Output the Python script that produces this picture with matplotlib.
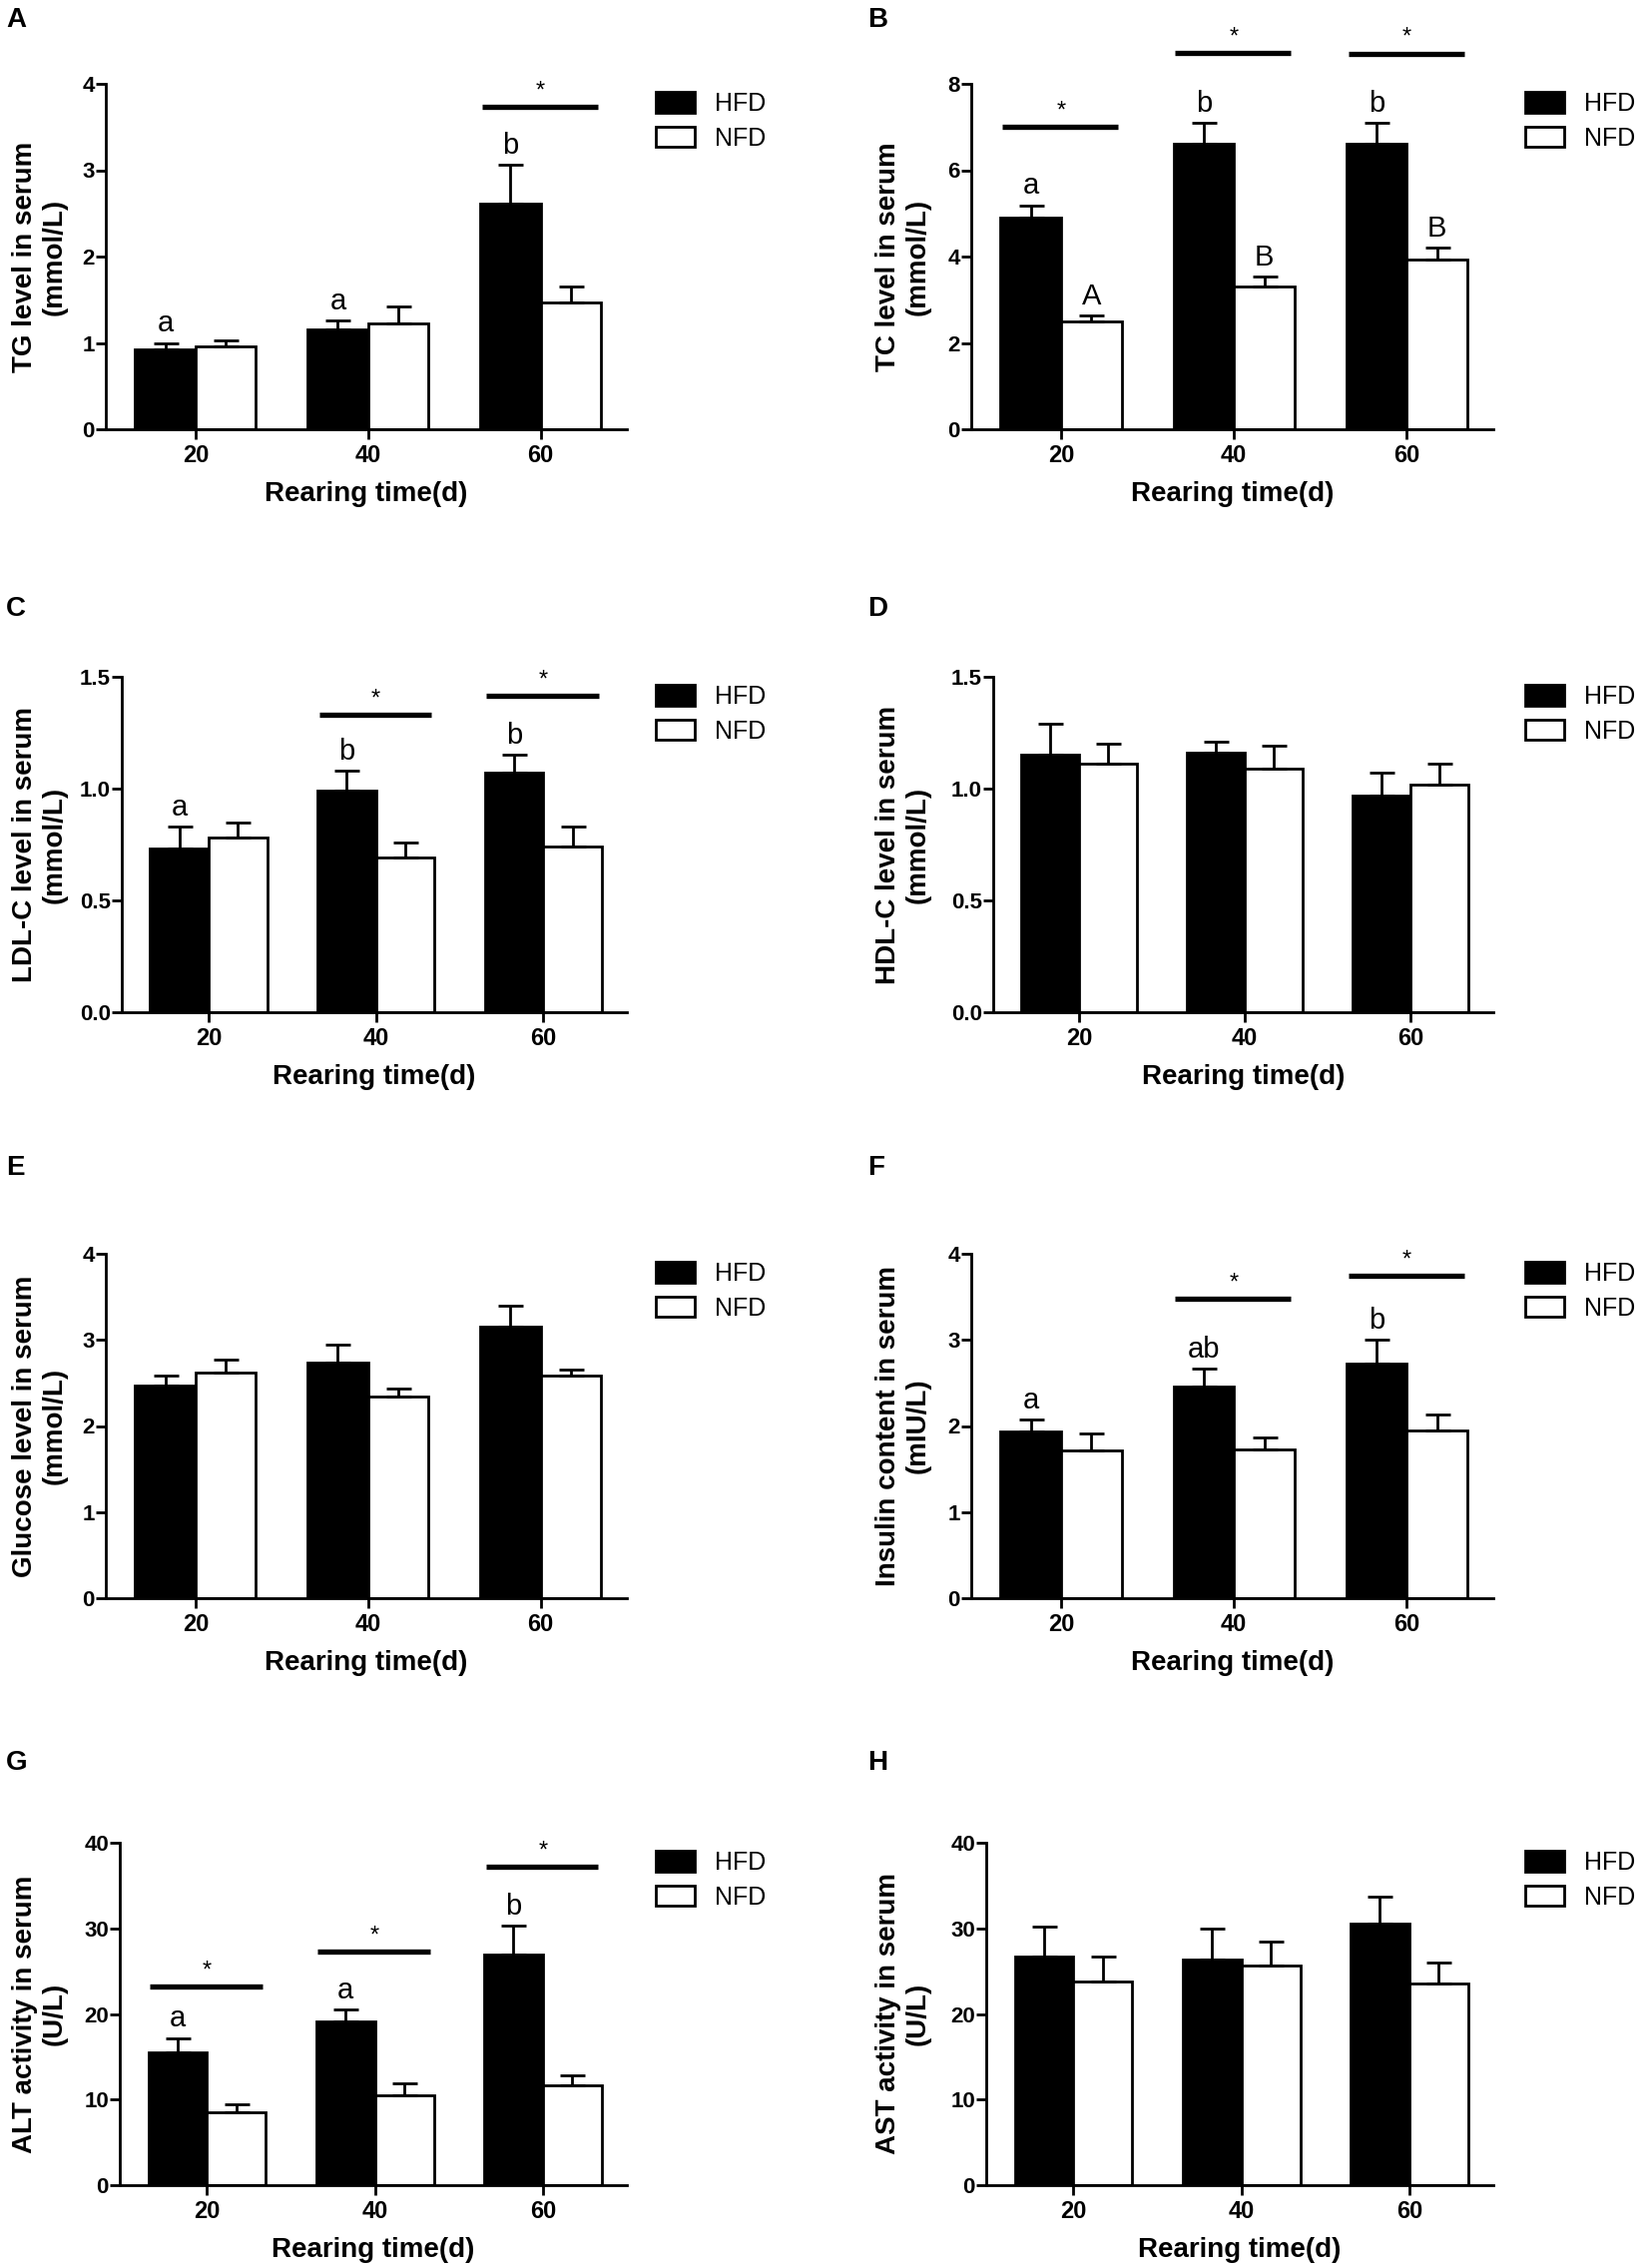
import numpy as np
import matplotlib
matplotlib.use('Agg')
import matplotlib.pyplot as plt
from matplotlib import font_manager

names = {f.name for f in font_manager.fontManager.ttflist}
NARROW = 'Liberation Sans Narrow' if 'Liberation Sans Narrow' in names else 'Liberation Sans'
WIDE = 'Liberation Sans'

days = ['20', '40', '60']
groups = ['HFD', 'NFD']
xlabel = 'Rearing time(d)'

# A  TG
tg_hfd = [0.93, 1.16, 2.61]
tg_hfd_sem = [0.07, 0.10, 0.45]
tg_nfd = [0.96, 1.23, 1.47]
tg_nfd_sem = [0.07, 0.19, 0.18]
tg_letters_hfd = ['a', 'a', 'b']
tg_letters_nfd = ['', '', '']
tg_sig = [2]
tg_sig_y = [3.73]

# B  TC
tc_hfd = [4.91, 6.62, 6.62]
tc_hfd_sem = [0.28, 0.48, 0.48]
tc_nfd = [2.49, 3.30, 3.94]
tc_nfd_sem = [0.14, 0.24, 0.26]
tc_letters_hfd = ['a', 'b', 'b']
tc_letters_nfd = ['A', 'B', 'B']
tc_sig = [0, 1, 2]
tc_sig_y = [7.01, 8.72, 8.70]

# C  LDL-C
ldl_hfd = [0.73, 0.99, 1.07]
ldl_hfd_sem = [0.10, 0.09, 0.08]
ldl_nfd = [0.78, 0.69, 0.74]
ldl_nfd_sem = [0.07, 0.07, 0.09]
ldl_letters_hfd = ['a', 'b', 'b']
ldl_letters_nfd = ['', '', '']
ldl_sig = [1, 2]
ldl_sig_y = [1.33, 1.415]

# D  HDL-C
hdl_hfd = [1.15, 1.16, 0.97]
hdl_hfd_sem = [0.14, 0.05, 0.10]
hdl_nfd = [1.11, 1.09, 1.02]
hdl_nfd_sem = [0.09, 0.10, 0.09]

# E  glucose
glu_hfd = [2.47, 2.74, 3.15]
glu_hfd_sem = [0.11, 0.21, 0.25]
glu_nfd = [2.62, 2.34, 2.58]
glu_nfd_sem = [0.15, 0.09, 0.07]

# F  insulin
ins_hfd = [1.94, 2.46, 2.73]
ins_hfd_sem = [0.13, 0.21, 0.27]
ins_nfd = [1.72, 1.73, 1.95]
ins_nfd_sem = [0.19, 0.14, 0.18]
ins_letters_hfd = ['a', 'ab', 'b']
ins_letters_nfd = ['', '', '']
ins_sig = [1, 2]
ins_sig_y = [3.48, 3.74]

# G  ALT
alt_hfd = [15.5, 19.1, 26.9]
alt_hfd_sem = [1.7, 1.4, 3.4]
alt_nfd = [8.5, 10.5, 11.7]
alt_nfd_sem = [1.0, 1.4, 1.1]
alt_letters_hfd = ['a', 'a', 'b']
alt_letters_nfd = ['', '', '']
alt_sig = [0, 1, 2]
alt_sig_y = [23.2, 27.3, 37.2]

# H  AST
ast_hfd = [26.7, 26.4, 30.6]
ast_hfd_sem = [3.5, 3.6, 3.1]
ast_nfd = [23.8, 25.6, 23.5]
ast_nfd_sem = [2.9, 2.9, 2.5]

panels = [
    dict(tag='A', ylabel='TG level in serum\n(mmol/L)', ymax=4, step=1, fmt='%d',
         hfd=tg_hfd, hs=tg_hfd_sem, nfd=tg_nfd, ns=tg_nfd_sem,
         lh=tg_letters_hfd, ln=tg_letters_nfd, sig=tg_sig, sig_y=tg_sig_y),
    dict(tag='B', ylabel='TC level in serum\n(mmol/L)', ymax=8, step=2, fmt='%d',
         hfd=tc_hfd, hs=tc_hfd_sem, nfd=tc_nfd, ns=tc_nfd_sem,
         lh=tc_letters_hfd, ln=tc_letters_nfd, sig=tc_sig, sig_y=tc_sig_y),
    dict(tag='C', ylabel='LDL-C level in serum\n(mmol/L)', ymax=1.5, step=0.5, fmt='%.1f',
         hfd=ldl_hfd, hs=ldl_hfd_sem, nfd=ldl_nfd, ns=ldl_nfd_sem,
         lh=ldl_letters_hfd, ln=ldl_letters_nfd, sig=ldl_sig, sig_y=ldl_sig_y),
    dict(tag='D', ylabel='HDL-C level in serum\n(mmol/L)', ymax=1.5, step=0.5, fmt='%.1f',
         hfd=hdl_hfd, hs=hdl_hfd_sem, nfd=hdl_nfd, ns=hdl_nfd_sem),
    dict(tag='E', ylabel='Glucose level in serum\n(mmol/L)', ymax=4, step=1, fmt='%d',
         hfd=glu_hfd, hs=glu_hfd_sem, nfd=glu_nfd, ns=glu_nfd_sem),
    dict(tag='F', ylabel='Insulin content in serum\n(mIU/L)', ymax=4, step=1, fmt='%d',
         hfd=ins_hfd, hs=ins_hfd_sem, nfd=ins_nfd, ns=ins_nfd_sem,
         lh=ins_letters_hfd, ln=ins_letters_nfd, sig=ins_sig, sig_y=ins_sig_y),
    dict(tag='G', ylabel='ALT activity in serum\n(U/L)', ymax=40, step=10, fmt='%d',
         hfd=alt_hfd, hs=alt_hfd_sem, nfd=alt_nfd, ns=alt_nfd_sem,
         lh=alt_letters_hfd, ln=alt_letters_nfd, sig=alt_sig, sig_y=alt_sig_y),
    dict(tag='H', ylabel='AST activity in serum\n(U/L)', ymax=40, step=10, fmt='%d',
         hfd=ast_hfd, hs=ast_hfd_sem, nfd=ast_nfd, ns=ast_nfd_sem),
]

# layout in pixels of the 1655x2269 canvas
W, H = 1655, 2269
row_top = [84, 678, 1256, 1846]
row_bot = [430, 1014, 1601, 2189]
tag_y = [20, 610, 1170, 1766]
ax_left = [106, 973, 122, 995, 106, 973, 120, 988]
ax_right = [628, 1496]
ylab_x = [40, 905]
tag_x = [6, 869]
leg_x = [657, 1528]

fig = plt.figure(figsize=(W / 100, H / 100), dpi=100)
x = np.arange(len(days))
w = 0.35

for i, p in enumerate(panels):
    r, c = divmod(i, 2)
    l, rr = ax_left[i], ax_right[c]
    t, b = row_top[r], row_bot[r]
    ax = fig.add_axes([l / W, 1 - b / H, (rr - l) / W, (b - t) / H])

    bh = ax.bar(x - w / 2, p['hfd'], w, color='black', edgecolor='black', linewidth=2, label='HFD')
    bn = ax.bar(x + w / 2, p['nfd'], w, color='white', edgecolor='black', linewidth=2, label='NFD')
    zeros = np.zeros(len(days))
    ax.errorbar(x - w / 2, p['hfd'], yerr=[zeros, p['hs']], fmt='none', ecolor='black',
                elinewidth=2, capsize=9, capthick=2, zorder=3)
    ax.errorbar(x + w / 2, p['nfd'], yerr=[zeros, p['ns']], fmt='none', ecolor='black',
                elinewidth=2, capsize=9, capthick=2, zorder=3)

    for j in range(len(days)):
        for lets, means, sems, dx in ((p.get('lh'), p['hfd'], p['hs'], -w / 2),
                                       (p.get('ln'), p['nfd'], p['ns'], w / 2)):
            if lets and lets[j]:
                ax.annotate(lets[j], (x[j] + dx, means[j] + sems[j]), xytext=(0, 8),
                            textcoords='offset points', ha='center', va='baseline',
                            fontsize=21, family=NARROW, annotation_clip=False)

    for k, cat in enumerate(p.get('sig', [])):
        y = p['sig_y'][k]
        ax.plot([cat - 0.34, cat + 0.33], [y, y], color='black', lw=3.8,
                solid_capstyle='butt', clip_on=False)
        ax.annotate('*', (cat, y), xytext=(0, 7), textcoords='offset points',
                    ha='center', va='baseline', fontsize=17, family=WIDE,
                    annotation_clip=False)

    ax.set_xlim(-0.52, 2.5)
    ax.set_ylim(0, p['ymax'])
    ax.set_xticks(x)
    ax.set_xticklabels(days)
    yt = np.arange(0, p['ymax'] + p['step'] / 2, p['step'])
    ax.set_yticks(yt)
    ax.set_yticklabels([p['fmt'] % v for v in yt])
    for s in ('top', 'right'):
        ax.spines[s].set_visible(False)
    for s in ('left', 'bottom'):
        ax.spines[s].set_linewidth(2)
    ax.tick_params(direction='out', length=7, width=2)
    ax.tick_params(axis='y', pad=1, labelsize=16)
    ax.tick_params(axis='x', pad=4, labelsize=17)
    for lab in ax.get_xticklabels() + ax.get_yticklabels():
        lab.set_family(NARROW)
        lab.set_fontweight('bold')
    ax.set_xlabel(xlabel, fontsize=20, fontweight='bold', family=NARROW, labelpad=10)

    fig.text(ylab_x[c] / W, 1 - (t + b) / 2 / H, p['ylabel'], rotation=90,
             ha='center', va='center', multialignment='center', fontsize=20,
             fontweight='bold', family=WIDE, linespacing=1.2)
    fig.text(tag_x[c] / W, 1 - tag_y[r] / H, p['tag'], ha='left', va='center',
             fontsize=20, fontweight='bold', family=NARROW)

    ax.legend([bh, bn], groups, loc='upper left',
              bbox_to_anchor=(leg_x[c] / W, 1 - (t + 8) / H), bbox_transform=fig.transFigure,
              frameon=False, borderpad=0, borderaxespad=0, handlelength=1.56,
              handleheight=0.88, handletextpad=0.8, labelspacing=0.42,
              prop=dict(family=NARROW, size=18))

fig.savefig('out.png', dpi=100)
